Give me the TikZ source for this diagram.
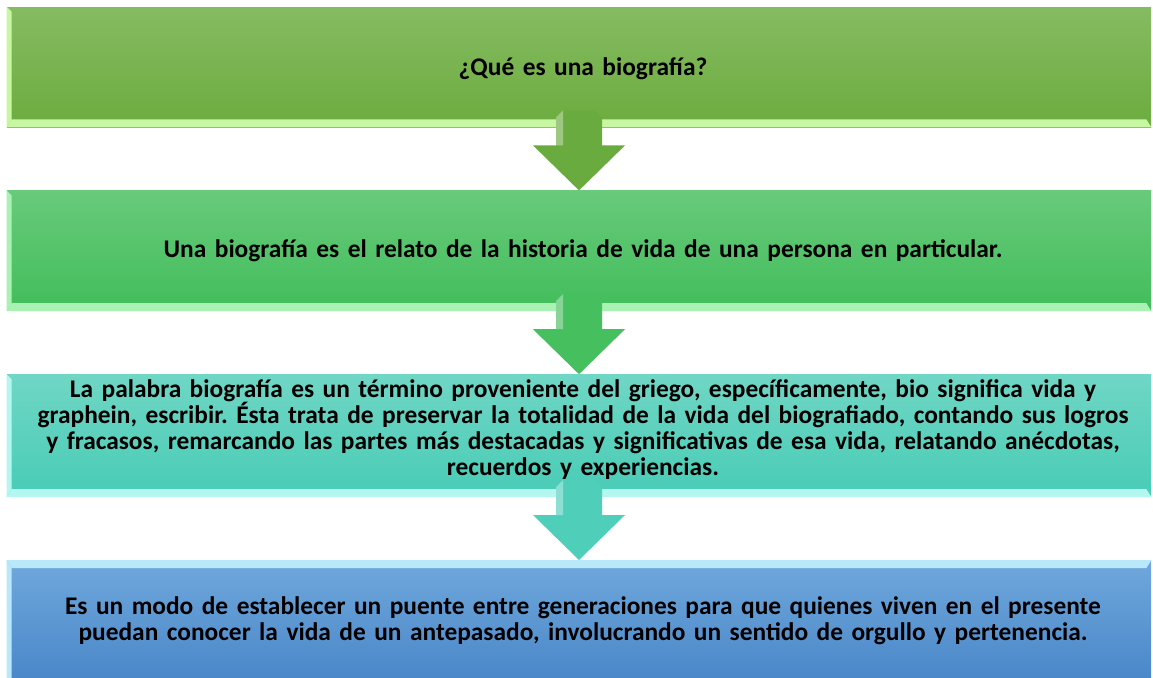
\documentclass[tikz,border=0pt]{standalone}
\usepackage{fontspec}
\setmainfont{Carlito}
\usetikzlibrary{positioning,calc}
\frenchspacing

\definecolor{gAtop}{HTML}{86BB62}
\definecolor{gAbot}{HTML}{6CAC3E}
\definecolor{gAlit}{HTML}{C8F7A2}
\definecolor{gAarr}{HTML}{6AAB3F}
\definecolor{gBtop}{HTML}{68CA7B}
\definecolor{gBbot}{HTML}{42BD5B}
\definecolor{gBlit}{HTML}{A9F2B4}
\definecolor{gBarr}{HTML}{46BF5E}
\definecolor{tqtop}{HTML}{70D6C5}
\definecolor{tqbot}{HTML}{48CCB6}
\definecolor{tqlit}{HTML}{B4F7F0}
\definecolor{tqarr}{HTML}{4FCFBA}
\definecolor{blTop}{HTML}{70A8DC}
\definecolor{blBot}{HTML}{4A87C9}
\definecolor{blLit}{HTML}{B8E8FA}

\tikzset{>=stealth,
  box/.style={minimum width=572pt, minimum height=60pt, inner sep=0pt},
  txt/.style={align=center, text width=570pt, inner sep=0pt,
    font=\bfseries\fontsize{12.7}{13}\selectfont}}

% light edge on the left and along the bottom (or top)
\newcommand{\bevelbot}[2]{%
  \fill[#2] (#1.north west) -- ++(5,5) -- ($(#1.south west)+(5,-8)$) -- (#1.south west) -- cycle;
  \fill[#2] (#1.south west) -- ($(#1.south west)+(5,-8)$) -- ($(#1.south east)+(-5,-8)$) -- (#1.south east) -- cycle;}
\newcommand{\beveltop}[2]{%
  \fill[#2] (#1.north west) -- ++(5,8) -- ($(#1.south west)+(5,0)$) -- (#1.south west) -- cycle;
  \fill[#2] (#1.north west) -- ($(#1.north west)+(5,8)$) -- ($(#1.north east)+(-5,8)$) -- (#1.north east) -- cycle;}
% block arrow from one box down to the next
\newcommand{\downarr}[3]{%
  \fill[#3] ($(#1.south)+(-23,-10)$) -- ($(#1.south)+(-16,-17)$) -- ($(#1.south)+(16,-17)$)
    -- ($(#1.south)+(23,-10)$) -- ($(#1.south)+(23,18)$) -- ($(#1.south)+(46,18)$) -- (#2.north)
    -- ($(#1.south)+(-46,18)$) -- ($(#1.south)+(-23,18)$) -- cycle;
  \fill[white,opacity=0.35] ($(#1.south)+(-23,-10)$) -- ($(#1.south)+(-16,-17)$) -- ($(#1.south)+(-16,18)$) -- ($(#1.south)+(-23,18)$) -- cycle;}

\begin{document}
\begin{tikzpicture}[x=0.5pt,y=-0.5pt]
  \useasboundingbox (0,0) rectangle (1153,677);

  \node[box, top color=gAtop, bottom color=gAbot] (b1) at (579,67) {};
  \node[box, top color=gBtop, bottom color=gBbot, below=31.5pt of b1] (b2) {};
  \node[box, minimum height=61pt, top color=tqtop, bottom color=tqbot, below=31.5pt of b2] (b3) {};
  \node[box, top color=blTop, bottom color=blBot, below=31.5pt of b3] (b4) {};

  \bevelbot{b1}{gAlit}
  \bevelbot{b2}{gBlit}
  \bevelbot{b3}{tqlit}
  \beveltop{b4}{blLit}

  \downarr{b1}{b2}{gAarr}
  \downarr{b2}{b3}{gBarr}
  \downarr{b3}{b4}{tqarr}

  \node[txt] (t1) at ($(b1.center)+(4,2)$) {¿Qué es una biografía?};
  \node[txt] (t2) at ($(b2.center)+(4,0)$) {Una biografía es el relato de la historia de vida de una persona en particular.};
  \node[txt] (t3) at ($(b3.center)+(4,-6)$) {La palabra biografía es un término proveniente del griego, específicamente, bio significa vida y\\
    graphein, escribir. Ésta trata de preservar la totalidad de la vida del biografiado, contando sus logros\\
    y fracasos, remarcando las partes más destacadas y significativas de esa vida, relatando anécdotas,\\
    recuerdos y experiencias.};
  \node[txt] (t4) at ($(b4.center)+(4,0)$) {Es un modo de establecer un puente entre generaciones para que quienes viven en el presente\\
    puedan conocer la vida de un antepasado, involucrando un sentido de orgullo y pertenencia.};
\end{tikzpicture}
\end{document}
